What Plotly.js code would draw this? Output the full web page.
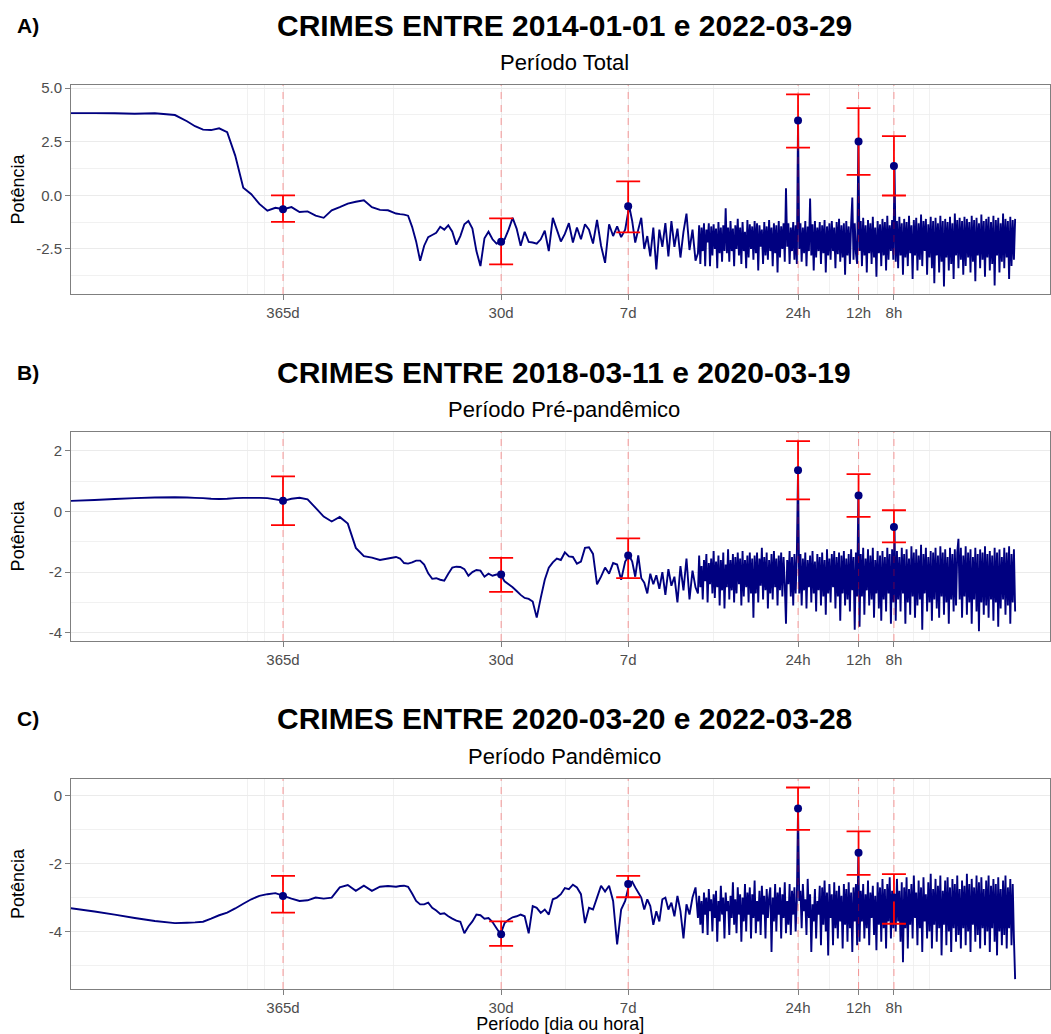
<!DOCTYPE html>
<html><head><meta charset="utf-8">
<script src="https://cdn.plot.ly/plotly-3.0.1.min.js"></script>
<style>html,body{margin:0;padding:0;background:#fff}#chart{width:1051px;height:1034px}</style>
</head><body><div id="chart"></div>
<script>
// ---------- DATA ----------
// log10 of frequency (cycles per day)
const logFreq = [
-3.62,-3.5,-3.4,-3.3,-3.2,-3.1,-3.04,-3,-2.96,-2.92,-2.88,-2.84,-2.8,-2.76,-2.72,-2.68,-2.64,-2.6,-2.56,-2.52,-2.48,-2.44,-2.4,-2.36,-2.32,-2.28,-2.24,-2.2,-2.16,-2.12,-2.08,-2.04,
-2,-1.98,-1.96,-1.94,-1.92,-1.9,-1.88,-1.86,-1.84,-1.82,-1.8,-1.78,-1.76,-1.74,-1.72,-1.7,-1.68,-1.66,-1.64,-1.62,-1.6,-1.58,-1.56,-1.54,-1.52,-1.5,-1.48,-1.46,-1.44,-1.42,-1.4,-1.38,-1.36,-1.34,-1.32,-1.3,-1.28,-1.26,-1.24,-1.22,-1.2,-1.18,-1.16,-1.14,-1.12,-1.1,-1.08,-1.06,-1.04,-1.02,-1,-0.98,-0.96,-0.94,-0.92,-0.9,-0.88,-0.86,
-0.84,-0.825,-0.81,-0.795,-0.78,-0.765,-0.75,-0.735,-0.72,-0.705,-0.69,-0.675,-0.66,-0.645,-0.63,-0.615,-0.6,-0.585,-0.57,-0.555,-0.54,-0.525,-0.51,
-0.498,-0.492,-0.486,-0.48,-0.474,-0.468,-0.462,-0.456,-0.45,-0.444,-0.438,-0.432,-0.426,-0.42,-0.414,-0.408,-0.402,-0.396,-0.39,-0.384,
-0.378,-0.372,-0.366,-0.36,-0.354,-0.348,-0.342,-0.336,-0.33,-0.324,-0.318,-0.312,-0.306,-0.3,-0.294,-0.288,-0.282,-0.276,-0.27,-0.264,
-0.258,-0.252,-0.246,-0.24,-0.234,-0.228,-0.222,-0.216,-0.21,-0.204,-0.198,-0.192,-0.186,-0.18,-0.174,-0.168,-0.162,-0.156,-0.15,-0.144,
-0.138,-0.132,-0.126,-0.12,-0.114,-0.108,-0.102,-0.096,-0.09,-0.084,-0.078,-0.072,-0.066,-0.06,-0.054,-0.048,-0.042,-0.036,-0.03,-0.024,
-0.018,-0.012,-0.006,
0,0.006,0.012,0.018,0.024,0.03,0.036,0.042,0.048,0.054,0.06,0.066,0.072,0.078,0.084,0.09,0.096,0.102,0.108,0.114,
0.12,0.126,0.132,0.138,0.144,0.15,0.156,0.162,0.168,0.174,0.18,0.186,0.192,0.198,0.204,0.21,0.216,0.222,0.228,0.234,
0.24,0.246,0.252,0.258,0.264,0.27,0.276,0.282,0.288,0.294,0.3,0.306,0.312,0.318,0.324,0.33,0.336,0.342,0.348,0.354,
0.36,0.366,0.372,0.378,0.384,0.39,0.396,0.402,0.408,0.414,0.42,0.426,0.432,0.438,0.444,0.45,0.456,0.462,0.468,0.474,
0.48,0.486,0.492,0.498,0.504,0.51,0.516,0.522,0.528,0.534,0.54,0.546,0.552,0.558,0.564,0.57,0.576,0.582,0.588,0.594,
0.6,0.606,0.612,0.618,0.624,0.63,0.636,0.642,0.648,0.654,0.66,0.666,0.672,0.678,0.684,0.69,0.696,0.702,0.708,0.714,
0.72,0.726,0.732,0.738,0.744,0.75,0.756,0.762,0.768,0.774,0.78,0.786,0.792,0.798,0.804,0.81,0.816,0.822,0.828,0.834,
0.84,0.846,0.852,0.858,0.864,0.87,0.876,0.882,0.888,0.894,0.9,0.906,0.912,0.918,0.924,0.93,0.936,0.942,0.948,0.954,
0.96,0.966,0.972,0.978,0.984,0.99,0.996,1.002,1.008,1.014,1.02,1.026,1.032,1.038,1.044,1.05,1.056,1.062,1.068,1.074,
1.08
];

const powerTotal = [
3.83,3.83,3.82,3.80,3.82,3.74,3.45,3.22,3.06,3.04,3.12,2.94,1.85,0.35,0.05,-0.40,-0.72,-0.58,-0.65,-0.55,-0.78,-0.75,-0.95,-1.05,-0.70,-0.55,-0.39,-0.30,-0.23,-0.55,-0.68,-0.70,
-0.85,-0.88,-0.90,-0.95,-1.47,-2.15,-3.05,-2.35,-1.95,-1.85,-1.75,-1.47,-1.60,-1.40,-1.70,-2.30,-1.90,-1.35,-1.20,-1.55,-2.60,-3.30,-2.00,-1.70,-2.05,-2.25,-2.17,-2.05,-1.60,-1.05,-1.55,-2.35,-1.70,-2.17,-2.20,-2.25,-2.05,-1.65,-2.60,-1.05,-1.60,-2.15,-1.80,-1.30,-2.20,-1.50,-2.05,-1.35,-1.60,-2.25,-1.15,-2.35,-3.15,-1.35,-1.90,-1.45,-1.95,-1.60,
-0.51,-1.20,-2.20,-1.60,-1.05,-2.50,-1.90,-2.85,-1.50,-3.45,-1.60,-2.40,-1.30,-2.85,-1.20,-2.40,-1.55,-2.90,-1.70,-0.85,-2.55,-1.60,-3.05,
-2.70,-1.40,-3.20,-1.50,-2.60,-1.30,-3.30,-1.60,-2.20,-1.30,-3.30,-1.45,-2.80,-1.35,-2.50,-1.55,-3.40,-1.25,-2.70,-1.50,
-3.10,-1.40,-2.60,-0.60,-2.70,-1.50,-3.10,-1.20,-2.60,-1.55,-3.30,-1.40,-2.50,-1.10,-2.80,-1.50,-3.20,-1.25,-2.60,-1.70,
-3.40,-1.15,-2.90,-1.35,-2.50,-1.45,-3.00,-1.20,-2.70,-1.30,-3.50,-1.40,-2.40,-1.60,-3.20,-1.25,-2.80,-1.45,-3.00,-1.15,
-2.60,-1.50,-3.30,-1.30,-2.70,-1.40,-3.60,-1.20,-2.90,-1.45,-2.50,-1.30,-3.10,0.33,-2.40,-1.30,-3.20,-1.50,-2.60,-1.25,
-3.00,-1.40,-3.20,
3.49,
-2.50,-1.30,-3.10,-1.50,-2.70,-1.20,-3.30,-1.45,-2.60,-0.15,-2.80,-1.35,-3.50,-1.20,-2.90,-1.50,-2.60,-1.25,-3.20,-1.40,
-2.70,-1.15,-3.60,-1.45,-2.80,-1.30,-3.00,-1.20,-2.60,-1.50,-3.40,-1.25,-2.75,-1.10,-3.10,-1.40,-2.90,-1.30,-3.70,-1.20,
-2.80,-1.45,-3.20,-1.35,-0.10,-3.00,-1.30,-2.70,-3.20,
2.51,
-2.60,-1.20,-3.30,-1.05,-2.80,-1.40,-3.60,-1.15,-2.70,-1.30,-3.20,-1.00,-2.90,-1.50,-3.80,-1.20,-2.70,-1.35,-3.30,-1.10,
-2.80,-1.25,-3.50,-0.95,-3.00,-1.40,-2.60,-1.15,-3.00,
1.36,
-3.10,-1.20,-3.40,-1.00,-2.80,-1.30,-3.70,-1.10,-2.90,-1.25,-3.30,-0.95,-2.70,-1.40,-3.90,-1.15,-2.80,-1.05,-3.50,-1.30,
-3.00,-0.90,-3.30,-1.20,-2.60,-1.10,-3.70,-1.35,-2.90,-1.00,-3.40,-1.20,-4.10,-1.05,-2.80,-1.30,-3.60,-0.95,-3.10,-1.20,
-4.25,-1.10,-2.90,-1.25,-3.50,-1.00,-3.20,-1.30,-3.90,-0.85,-2.80,-1.15,-3.40,-1.05,-3.00,-1.20,-3.70,-1.00,-3.30,-1.10,
-2.90,-1.25,-3.60,-0.95,-3.10,-1.15,-4.00,-1.05,-2.80,-1.30,-3.40,-0.90,-3.00,-1.20,-3.80,-1.10,-2.90,-1.00,-3.50,-1.25,
-3.20,-0.95,-4.20,-1.15,-2.80,-1.05,-3.60,-1.30,-3.10,-0.85,-3.40,-1.10,-2.90,-1.20,-3.90,-1.00,-3.30,-1.15,-3.00,-1.10
];

const powerPre = [
0.35,0.38,0.41,0.44,0.46,0.47,0.46,0.45,0.44,0.42,0.41,0.42,0.44,0.45,0.45,0.45,0.44,0.40,0.35,0.42,0.45,0.40,0.12,-0.17,-0.33,-0.18,-0.40,-1.20,-1.47,-1.52,-1.60,-1.55,
-1.50,-1.55,-1.70,-1.72,-1.68,-1.62,-1.62,-1.75,-2.04,-2.22,-2.20,-2.25,-2.28,-2.05,-1.85,-1.82,-1.83,-1.90,-2.12,-2.00,-1.93,-1.95,-2.15,-2.05,-2.12,-2.08,-2.08,-2.30,-2.40,-2.50,-2.62,-2.75,-2.85,-2.88,-2.97,-3.50,-2.85,-2.25,-1.85,-1.68,-1.55,-1.60,-1.35,-1.48,-1.50,-1.72,-1.65,-1.20,-1.18,-1.40,-2.40,-2.15,-1.85,-2.05,-1.70,-1.75,-2.25,-1.65,
-1.45,-1.65,-2.15,-1.45,-2.20,-2.35,-2.70,-2.05,-2.40,-2.10,-2.55,-2.00,-2.75,-1.90,-2.45,-2.15,-3.00,-1.80,-2.60,-1.55,-2.90,-1.95,-2.50,
-2.70,-1.45,-2.50,-1.80,-2.90,-1.60,-2.30,-1.40,-3.00,-1.70,-2.40,-1.55,-2.70,-1.30,-2.85,-1.65,-2.50,-1.45,-3.10,-1.60,
-2.60,-1.35,-3.20,-1.75,-2.50,-1.25,-2.90,-1.60,-2.60,-1.40,-3.00,-1.50,-2.70,-1.35,-2.40,-1.55,-3.10,-1.30,-2.80,-1.60,
-2.50,-1.45,-3.00,-1.35,-2.70,-1.55,-3.50,-1.45,-2.70,-1.35,-3.00,-1.55,-2.45,-1.20,-2.90,-1.50,-2.60,-1.35,-3.20,-1.60,
-2.70,-1.40,-2.90,-1.30,-2.50,-1.55,-3.10,-1.45,-2.60,-1.35,-2.80,-1.50,-2.40,-3.70,-1.60,-2.40,-1.30,-2.80,-1.50,-3.10,
-1.40,-2.70,-1.45,
1.36,
-2.70,-1.40,-3.10,-1.55,-2.60,-1.35,-3.20,-1.60,-2.50,-1.45,-3.00,-1.30,-2.70,-1.65,-3.30,-1.40,-2.60,-1.50,-3.10,-1.35,
-2.80,-1.60,-3.40,-1.25,-2.70,-1.55,-3.00,-1.40,-2.50,-1.30,-3.20,-1.50,-2.80,-1.35,-3.60,-1.45,-2.70,-1.30,-3.10,-1.55,
-2.90,-1.40,-3.30,-1.25,-2.60,-1.50,-3.90,-1.35,-2.80,
0.53,
-3.80,-1.40,-2.80,-1.20,-3.40,-1.55,-2.60,-1.25,-3.10,-1.45,-2.90,-1.20,-3.50,-1.60,-2.70,-1.30,-3.20,-1.45,-3.60,-1.30,
-2.90,-1.50,-3.30,-1.20,-2.70,-1.40,-3.70,-1.25,-3.00,
-0.51,
-3.60,-1.30,-2.90,-1.50,-3.30,-1.20,-2.70,-1.40,-3.70,-1.25,-3.00,-1.55,-3.40,-1.15,-2.80,-1.35,-3.50,-1.25,-3.10,-1.45,
-2.90,-1.10,-3.90,-1.40,-2.70,-1.20,-3.30,-1.50,-3.00,-1.30,-3.60,-1.35,-2.90,-1.20,-3.20,-1.45,-3.50,-1.15,-2.80,-1.35,
-3.40,-1.25,-3.00,-1.50,-3.70,-1.20,-2.90,-1.40,-3.30,-1.25,-3.10,-1.35,-0.90,-2.90,-1.20,-3.50,-1.45,-2.80,-1.15,-3.40,
-1.35,-3.00,-1.25,-3.70,-1.50,-2.90,-1.20,-3.30,-1.40,-3.95,-1.25,-3.00,-1.35,-3.40,-1.15,-3.10,-1.40,-3.50,-1.30,-2.90,
-1.45,-3.60,-1.20,-3.00,-1.35,-3.80,-1.25,-3.20,-1.50,-2.90,-1.20,-3.40,-1.35,-3.10,-1.15,-3.70,-1.40,-3.00,-1.25,-3.30
];

const powerPand = [
-3.31,-3.41,-3.50,-3.60,-3.69,-3.75,-3.74,-3.73,-3.71,-3.62,-3.52,-3.44,-3.32,-3.18,-3.05,-2.95,-2.90,-2.87,-2.95,-3.03,-3.10,-3.08,-3.00,-3.03,-3.00,-2.70,-2.63,-2.80,-2.65,-2.80,-2.68,-2.66,
-2.68,-2.66,-2.65,-2.68,-2.88,-3.10,-3.20,-3.20,-3.15,-3.30,-3.38,-3.48,-3.46,-3.55,-3.62,-3.68,-3.71,-4.05,-3.85,-3.70,-3.50,-3.52,-3.62,-3.60,-3.72,-3.90,-4.08,-3.75,-3.65,-3.58,-3.55,-3.50,-3.55,-4.05,-3.25,-3.30,-3.45,-3.35,-3.50,-3.05,-3.00,-2.90,-2.72,-2.75,-2.62,-2.70,-2.90,-3.75,-3.30,-3.35,-3.00,-2.65,-2.82,-2.65,-3.10,-4.38,-3.35,-3.10,
-2.60,-2.53,-2.70,-2.85,-3.00,-3.35,-3.05,-3.25,-3.80,-3.40,-3.70,-3.05,-3.00,-3.35,-3.15,-3.55,-2.95,-3.40,-4.20,-3.20,-3.50,-3.00,-2.70,
-3.60,-2.95,-3.80,-3.10,-4.05,-2.85,-3.50,-3.00,-4.10,-2.75,-3.40,-3.05,-4.00,-2.90,-3.60,-2.80,-4.30,-3.10,-3.70,-2.65,
-3.50,-3.00,-4.20,-2.85,-3.40,-3.10,-4.10,-2.95,-3.60,-2.55,-3.80,-3.05,-4.05,-2.70,-3.50,-2.90,-4.30,-3.00,-3.70,-2.60,
-4.00,-2.85,-3.50,-2.70,-4.20,-2.90,-3.60,-2.50,-4.05,-3.10,-3.70,-2.80,-4.10,-2.65,-3.50,-2.95,-4.20,-2.75,-3.60,-3.00,
-2.70,-4.60,-3.00,-3.70,-2.60,-4.00,-2.85,-3.50,-2.70,-4.20,-2.90,-3.60,-2.55,-4.05,-3.10,-3.80,-2.60,-4.10,-2.80,-3.50,
-2.70,-4.00,-3.10,
-0.38,
-3.10,-2.80,-3.90,-2.60,-3.40,-3.05,-4.10,-2.45,-3.60,-2.90,-4.60,-3.20,-3.70,-2.75,-4.20,-3.10,-3.50,-2.65,-4.40,-2.70,
-3.80,-2.50,-4.00,-2.85,-4.70,-2.60,-3.60,-2.90,-4.40,-2.55,-3.90,-2.80,-4.20,-2.65,-3.70,-2.95,-4.50,-2.60,-3.80,-2.75,
-4.30,-2.55,-3.90,-2.85,-4.60,-2.70,-3.70,-2.60,-4.40,
-1.68,
-4.30,-2.80,-3.70,-2.60,-4.20,-2.90,-3.90,-2.50,-4.40,-2.85,-3.60,-2.65,-4.10,-2.95,-4.55,-2.55,-3.80,-2.70,-4.30,-2.45,
-3.90,-2.75,-4.50,-2.60,-3.70,-2.40,-4.20,-2.80,-3.90,
-3.00,
-4.00,-2.45,-3.70,-2.80,-4.30,-2.55,-4.90,-2.70,-3.90,-2.40,-4.50,-2.75,-3.80,-2.60,-4.20,-2.35,-3.60,-2.85,-4.40,-2.50,
-3.90,-2.70,-4.60,-2.40,-3.70,-2.90,-4.20,-2.55,-4.00,-2.30,-4.50,-2.75,-3.80,-2.45,-4.30,-2.65,-3.90,-2.35,-4.70,-2.80,
-3.80,-2.50,-4.40,-2.40,-4.00,-2.70,-4.60,-2.45,-3.90,-2.60,-4.30,-2.35,-4.10,-2.75,-4.50,-2.50,-3.90,-2.65,-4.40,-2.30,
-4.00,-2.60,-4.60,-2.45,-3.80,-2.70,-4.30,-2.35,-4.10,-2.55,-4.50,-2.40,-3.90,-2.75,-4.40,-2.50,-4.00,-2.35,-4.60,-2.65,
-3.90,-2.45,-4.30,-2.60,-4.70,-2.40,-4.00,-2.75,-4.40,-2.50,-4.10,-2.35,-4.50,-2.70,-3.90,-2.45,-4.40,-2.60,-4.20,-5.40
];

// reference periods (hours) and their labels
const periodHours = [8760, 720, 168, 24, 12, 8];
const periodLabels = ["365d", "30d", "7d", "24h", "12h", "8h"];

// power at reference periods with confidence limits
const peakTotal  = [-0.65, -2.17, -0.51, 3.49, 2.51, 1.36];
const lowerTotal = [-1.24, -3.22, -1.73, 2.22, 0.95, -0.01];
const upperTotal = [0.00, -1.08, 0.65, 4.70, 4.06, 2.76];
const peakPre    = [0.35, -2.08, -1.45, 1.36, 0.53, -0.51];
const lowerPre   = [-0.45, -2.65, -2.20, 0.40, -0.18, -1.02];
const upperPre   = [1.16, -1.53, -0.89, 2.32, 1.23, 0.04];
const peakPand   = [-2.95, -4.08, -2.60, -0.38, -1.68, -3.00];
const lowerPand  = [-3.44, -4.42, -2.99, -1.01, -2.33, -3.77];
const upperPand  = [-2.36, -3.70, -2.36, 0.24, -1.05, -2.31];

const panelTags = ["A)", "B)", "C)"];
const panelTitles = ["CRIMES ENTRE 2014-01-01 e 2022-03-29", "CRIMES ENTRE 2018-03-11 e 2020-03-19", "CRIMES ENTRE 2020-03-20 e 2022-03-28"];
const panelSubtitles = ["Período Total", "Período Pré-pandêmico", "Período Pandêmico"];

const yTicksTotal = [-2.5, 0, 2.5, 5];
const yLabelsTotal = ["-2.5", "0.0", "2.5", "5.0"];
const yTicksPre = [-4, -2, 0, 2];
const yLabelsPre = ["-4", "-2", "0", "2"];
const yTicksPand = [-4, -2, 0];
const yLabelsPand = ["-4", "-2", "0"];

// ---------- LAYOUT / STYLE ----------
const W = 1051, H = 1034;
const FONT = "Liberation Sans, Arial, Helvetica, sans-serif";
const fx = p => p / W, fy = p => 1 - p / H;
const freq = logFreq.map(v => Math.pow(10, v));
const refFreq = periodHours.map(h => 24 / h);
const minorGridFreq = [-2.741, -2.652, -2.015, -1.159, -0.423, 0.154, 0.393, 0.572, 0.652].map(v => Math.pow(10, v));

const panels = [
  {power: powerTotal, peak: peakTotal, lo: lowerTotal, hi: upperTotal, yt: yTicksTotal, yl: yLabelsTotal,
   yminor: [-3.75, -1.25, 1.25, 3.75], range: [-4.60, 5.14], top: 85, bottom: 294, titleY: 25.5, subY: 62, standoff: 6},
  {power: powerPre, peak: peakPre, lo: lowerPre, hi: upperPre, yt: yTicksPre, yl: yLabelsPre,
   yminor: [-3, -1, 1], range: [-4.27, 2.63], top: 431.7, bottom: 641, titleY: 372, subY: 409, standoff: 19},
  {power: powerPand, peak: peakPand, lo: lowerPand, hi: upperPand, yt: yTicksPand, yl: yLabelsPand,
   yminor: [-5, -3, -1], range: [-5.69, 0.49], top: 779, bottom: 989, titleY: 718, subY: 756, standoff: 19}
];

const traces = [];
const layout = {
  width: W, height: H, margin: {l: 0, r: 0, t: 0, b: 0},
  paper_bgcolor: "#ffffff", plot_bgcolor: "#ffffff", showlegend: false,
  font: {family: FONT, color: "#000000"},
  annotations: []
};

panels.forEach((p, i) => {
  const s = i === 0 ? "" : String(i + 1);
  const xa = "x" + s, ya = "y" + s;
  traces.push({
    type: "scatter", mode: "lines", x: freq, y: p.power, xaxis: xa, yaxis: ya,
    line: {color: "#000080", width: 1.9, simplify: false}, hoverinfo: "skip"
  });
  const vx = [], vy = [];
  refFreq.forEach(f => { vx.push(f, f, null); vy.push(p.range[0], p.range[1], null); });
  traces.push({
    type: "scatter", mode: "lines", x: vx, y: vy, xaxis: xa, yaxis: ya,
    line: {color: "rgba(255,0,0,0.35)", width: 1.1, dash: "7px,6px"}, hoverinfo: "skip"
  });
  traces.push({
    type: "scatter", mode: "markers", x: refFreq, y: p.peak, xaxis: xa, yaxis: ya,
    marker: {color: "#000080", size: 8},
    error_y: {type: "data", symmetric: false,
      array: p.hi.map((h, k) => h - p.peak[k]),
      arrayminus: p.lo.map((l, k) => p.peak[k] - l),
      color: "#ff0000", thickness: 1.8, width: 12},
    hoverinfo: "skip"
  });

  layout["xaxis" + s] = {
    type: "log", range: [-3.617, 1.251], domain: [fx(71), fx(1049.5)], anchor: ya,
    tickmode: "array", tickvals: refFreq, ticktext: periodLabels,
    showgrid: true, gridcolor: "#ebebeb", gridwidth: 1,
    minor: {tickmode: "array", tickvals: minorGridFreq, showgrid: true, gridcolor: "#ededed", gridwidth: 0.8, ticks: ""},
    ticks: "outside", ticklen: 5, tickwidth: 1, tickcolor: "#7f7f7f",
    showline: true, mirror: true, linecolor: "#7f7f7f", linewidth: 1, zeroline: false,
    tickfont: {family: FONT, size: 15, color: "#4d4d4d"}, fixedrange: true
  };
  layout["yaxis" + s] = {
    range: p.range, domain: [fy(p.bottom), fy(p.top)], anchor: xa,
    tickmode: "array", tickvals: p.yt, ticktext: p.yl,
    showgrid: true, gridcolor: "#ebebeb", gridwidth: 1,
    minor: {tickmode: "array", tickvals: p.yminor, showgrid: true, gridcolor: "#ededed", gridwidth: 0.8, ticks: ""},
    ticks: "outside", ticklen: 5, tickwidth: 1, tickcolor: "#7f7f7f",
    showline: true, mirror: true, linecolor: "#7f7f7f", linewidth: 1, zeroline: false,
    tickfont: {family: FONT, size: 15, color: "#4d4d4d"}, fixedrange: true,
    title: {text: "Potência", font: {family: FONT, size: 18, color: "#000000"}, standoff: p.standoff}
  };
  layout.annotations.push(
    {text: "<b>" + panelTags[i] + "</b>", xref: "paper", yref: "paper", x: fx(15), y: fy(p.titleY),
     xanchor: "left", yanchor: "middle", showarrow: false, font: {family: FONT, size: 21, color: "#000"}},
    {text: "<b>" + panelTitles[i] + "</b>", xref: "paper", yref: "paper", x: fx(564), y: fy(p.titleY),
     xanchor: "center", yanchor: "middle", showarrow: false, font: {family: FONT, size: 30, color: "#000"}},
    {text: panelSubtitles[i], xref: "paper", yref: "paper", x: fx(564), y: fy(p.subY),
     xanchor: "center", yanchor: "middle", showarrow: false, font: {family: FONT, size: 22, color: "#000"}}
  );
});
layout.xaxis3.title = {text: "Período [dia ou hora]", font: {family: FONT, size: 18, color: "#000000"}, standoff: 4};

Plotly.newPlot("chart", traces, layout, {displayModeBar: false, staticPlot: true});
</script>
</body></html>
